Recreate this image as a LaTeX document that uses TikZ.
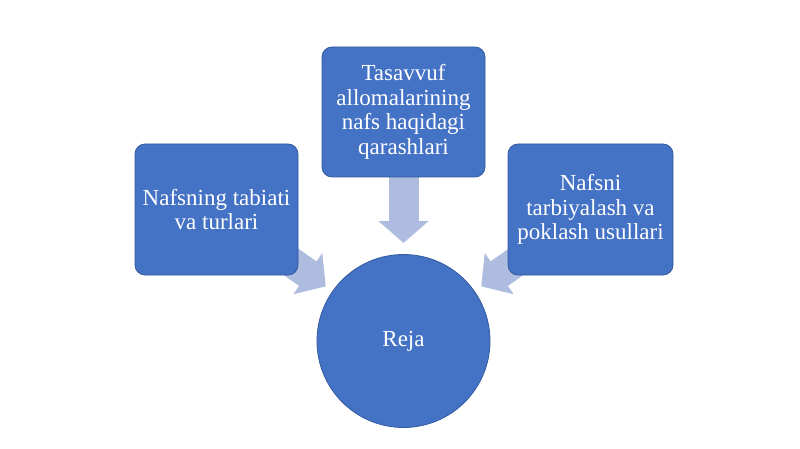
\documentclass[tikz,border=0pt]{standalone}
\usepackage{fontspec}
\setmainfont{Liberation Serif}
\usetikzlibrary{arrows.meta,calc}
\definecolor{boxblue}{RGB}{68,114,196}
\definecolor{boxedge}{RGB}{52,90,160}
\definecolor{arrowc}{RGB}{174,188,223}
\begin{document}
\begin{tikzpicture}[x=1pt,y=1pt,
  bluebox/.style={draw=boxedge, line width=0.8pt, fill=boxblue, rounded corners=10pt,
    minimum width=163pt, minimum height=131pt, inner sep=0pt, text=white, align=center,
    font=\fontsize{23}{24.5}\selectfont},
  bluecircle/.style={circle, draw=boxedge, line width=0.8pt, fill=boxblue, minimum size=173pt,
    inner sep=0pt, text=white, font=\fontsize{23}{24.5}\selectfont},
  blockarrow/.style={draw=arrowc, line width=30pt, line cap=butt,
    -{Triangle[width=49pt,length=22pt]}}]
\useasboundingbox (0,0) rectangle (800,-449);
\fill[white] (0,0) rectangle (800,-449);
% node positions (invisible placeholders for arrows first)
\coordinate (cL) at (216.5,-209.5);
\coordinate (cT) at (403.5,-112);
\coordinate (cR) at (590.5,-209.5);
\coordinate (cC) at (403.5,-341);
\coordinate (tipL) at ($(cL)!133.6pt!(cC)$);
\coordinate (tipT) at ($(cT)!131pt!(cC)$);
\coordinate (tipR) at ($(cR)!133.6pt!(cC)$);
\draw[blockarrow] (cL) -- (tipL);
\draw[blockarrow] (cT) -- (tipT);
\draw[blockarrow] (cR) -- (tipR);
\node[bluebox] (left) at (cL) {Nafsning tabiati\\va turlari};
\node[bluebox, minimum height=130pt] (top) at (cT) {Tasavvuf\\allomalarining\\nafs haqidagi\\qarashlari};
\node[bluebox, minimum width=165pt] (right) at (cR) {Nafsni\\tarbiyalash va\\poklash usullari};
\node[bluecircle] (reja) at (cC) {Reja};
\end{tikzpicture}
\end{document}
